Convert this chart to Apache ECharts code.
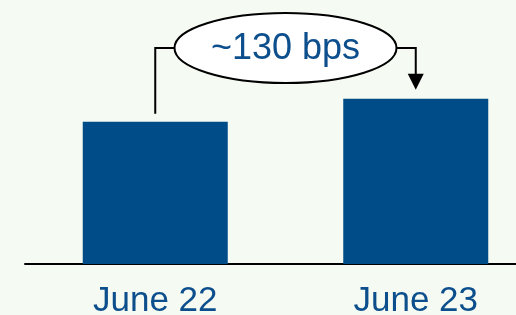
<!DOCTYPE html>
<html>
<head>
<meta charset="utf-8">
<script src="https://cdn.jsdelivr.net/npm/echarts@6/dist/echarts.min.js"></script>
<style>
html, body { margin: 0; padding: 0; background: #f5faf2; }
#chart { width: 516px; height: 315px; }
</style>
</head>
<body>
<div id="chart"></div>
<script>
// rates, in percent
var categories = ["June 22", "June 23"];
var rates = [8.0, 9.3];
var changeLabel = "~130 bps";

var chart = echarts.init(document.getElementById("chart"));

chart.setOption({
    backgroundColor: "#f5faf2",
    animation: false,
    grid: {
        left: 25,
        width: 521,
        top: 1,
        height: 263,
        containLabel: false,
        outerBoundsMode: "none"
    },
    xAxis: {
        type: "category",
        data: categories,
        axisLine: { lineStyle: { color: "#000", width: 2 } },
        axisTick: { show: false },
        axisLabel: {
            color: "#0c4f8c",
            fontSize: 35,
            fontFamily: "Liberation Sans, Arial, sans-serif",
            margin: 20
        }
    },
    yAxis: {
        type: "value",
        min: 0,
        max: 14.8,
        show: false,
        splitLine: { show: false }
    },
    series: [
        {
            type: "bar",
            data: rates,
            barWidth: 145,
            itemStyle: { color: "#004c89" }
        }
    ]
});

// bracket between the two bars
var p1 = chart.convertToPixel({ seriesIndex: 0 }, [0, rates[0]]);
var p2 = chart.convertToPixel({ seriesIndex: 0 }, [1, rates[1]]);
var cy = 48;
var cx = (p1[0] + p2[0]) / 2;
var rx = 111, ry = 35;
var lineStyle = { stroke: "#000", lineWidth: 2, fill: null };

chart.setOption({
    graphic: [
        {
            type: "polyline",
            shape: { points: [[p1[0], p1[1] - 8], [p1[0], cy], [cx - rx, cy]] },
            style: lineStyle
        },
        {
            type: "polyline",
            shape: { points: [[cx + rx, cy], [p2[0], cy], [p2[0], p2[1] - 24]] },
            style: lineStyle
        },
        {
            type: "polygon",
            shape: { points: [[p2[0] - 8, p2[1] - 25], [p2[0] + 8, p2[1] - 25], [p2[0], p2[1] - 9]] },
            style: { fill: "#000" }
        },
        {
            type: "ellipse",
            shape: { cx: cx, cy: cy, rx: rx, ry: ry },
            style: { fill: "#fff", stroke: "#000", lineWidth: 2 }
        },
        {
            type: "text",
            x: cx,
            y: cy + 1,
            style: {
                text: changeLabel,
                fill: "#0c4f8c",
                font: "36px 'Liberation Sans', Arial, sans-serif",
                align: "center",
                verticalAlign: "middle"
            }
        }
    ]
});

window.addEventListener("resize", function() {
    chart.resize();
});
</script>
</body>
</html>
